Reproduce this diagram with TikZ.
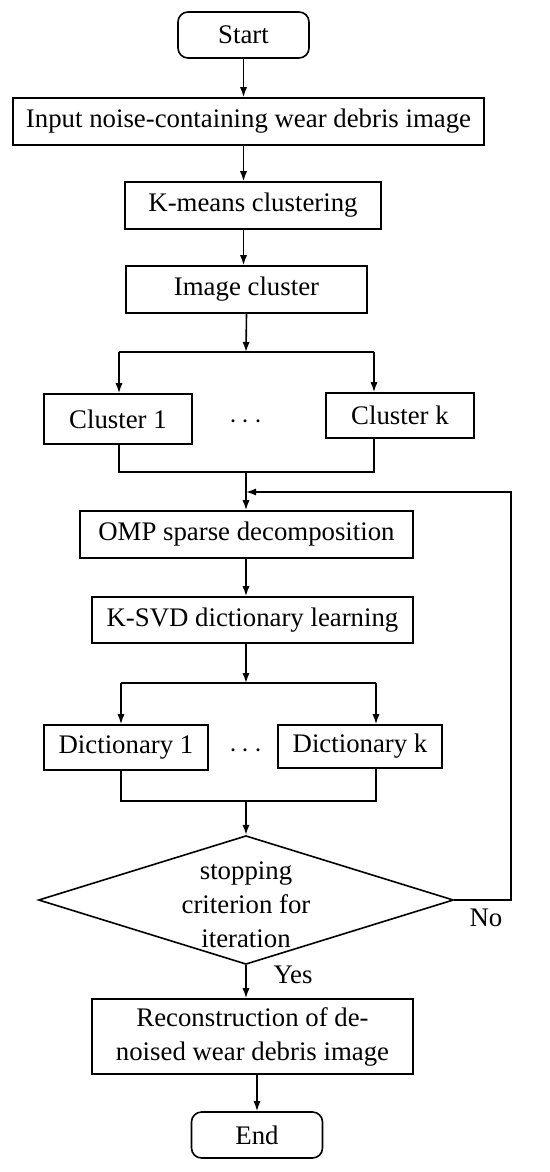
\documentclass[tikz,border=0pt]{standalone}
\usepackage{fontspec}
\setmainfont{Liberation Serif}
\usepackage{tikz}
\usetikzlibrary{positioning, calc, shapes.geometric, arrows.meta}

\begin{document}
\begin{tikzpicture}[x=0.5pt, y=-0.5pt,
  font=\fontsize{13.4}{17}\selectfont,
  every path/.style={line width=0.8pt},
  procbox/.style={draw, rectangle, inner sep=0pt, align=center},
  termbox/.style={draw, rectangle, rounded corners=5pt, inner sep=0pt, minimum width=65.5pt, minimum height=23pt},
  decision/.style={draw, diamond, inner sep=0pt, minimum width=207.5pt, minimum height=57.5pt},
  arr/.style={-{Latex[length=5pt, width=3.6pt]}}]
\useasboundingbox (0,0) rectangle (550,1172);

\node[termbox] (start) at (243.5,35) {Start};
\node[procbox, minimum width=235.5pt, minimum height=23.5pt] (input) at (248.5,121.5) {Input noise-containing wear debris image};
\node[procbox, minimum width=128pt, minimum height=23.5pt] (kmeans) at (253,205.5) {K-means clustering};
\node[procbox, minimum width=120.5pt, minimum height=23.5pt] (imgcl) at (246.5,289.5) {Image cluster};

\node[procbox, minimum width=74pt, minimum height=25pt] (cl1) at (118,419) {Cluster 1};
\node[procbox, minimum width=74pt, minimum height=22.5pt] (clk) at (400,415.5) {Cluster k};
\node (dots1) at (246,422) {$\cdots$};

\node[procbox, minimum width=166.5pt, minimum height=23.5pt] (omp) at (246.5,534.5) {OMP sparse decomposition};
\node[procbox, minimum width=160.5pt, minimum height=23pt] (ksvd) at (252.5,620) {K-SVD dictionary learning};

\node[procbox, minimum width=82pt, minimum height=22.5pt] (dic1) at (126,747.5) {Dictionary 1};
\node[procbox, minimum width=82pt, minimum height=21.5pt] (dick) at (360,746.5) {Dictionary k};
\node (dots2) at (246,751) {$\cdots$};

\node[decision] (dec) at (246,900) {\smash{\raisebox{-7pt}{\begin{tabular}{@{}c@{}}stopping\\criterion for\\iteration\end{tabular}}}};

\node[procbox, minimum width=160.5pt, minimum height=37.5pt] (rec) at (252.5,1036.5) {Reconstruction of de-\\noised wear debris image};
\node[termbox] (end) at (257,1135) {End};

\node (yes) at (293,975) {Yes};
\node (no) at (486,918) {No};

\coordinate (split1) at (246,352);
\coordinate (split1l) at (119,352);
\coordinate (split1r) at (374,352);
\coordinate (merge1) at (246,472);
\coordinate (back) at (246,492);
\coordinate (loop) at (511,492);
\coordinate (split2) at (246,683);
\coordinate (split2l) at (121,683);
\coordinate (split2r) at (376,683);
\coordinate (merge2) at (246,801);

\draw[arr] (start.south) -- (start.south |- input.north);
\draw[arr] (start.south |- input.south) -- (start.south |- kmeans.north);
\draw[arr] (start.south |- kmeans.south) -- (start.south |- imgcl.north);
\draw[arr] (imgcl.south) -- (split1);
\draw (split1l) -- (split1r);
\draw[arr] (split1l) -- (split1l |- cl1.north);
\draw[arr] (split1r) -- (split1r |- clk.north);
\draw (split1l |- cl1.south) |- (merge1);
\draw (split1r |- clk.south) |- (merge1);
\draw[arr] (merge1) -- (merge1 |- omp.north);
\draw[arr] (dec.east) -| (loop) -- (back);

\draw[arr] (merge1 |- omp.south) -- (merge1 |- ksvd.north);
\draw[arr] (merge1 |- ksvd.south) -- (split2);
\draw (split2l) -- (split2r);
\draw[arr] (split2l) -- (split2l |- dic1.north);
\draw[arr] (split2r) -- (split2r |- dick.north);
\draw (split2l |- dic1.south) |- (merge2);
\draw (split2r |- dick.south) |- (merge2);
\draw[arr] (merge2) -- (dec.north);

\draw[arr] (dec.south) -- (dec.south |- rec.north);
\draw[arr] (end.north |- rec.south) -- (end.north);
\end{tikzpicture}
\end{document}
